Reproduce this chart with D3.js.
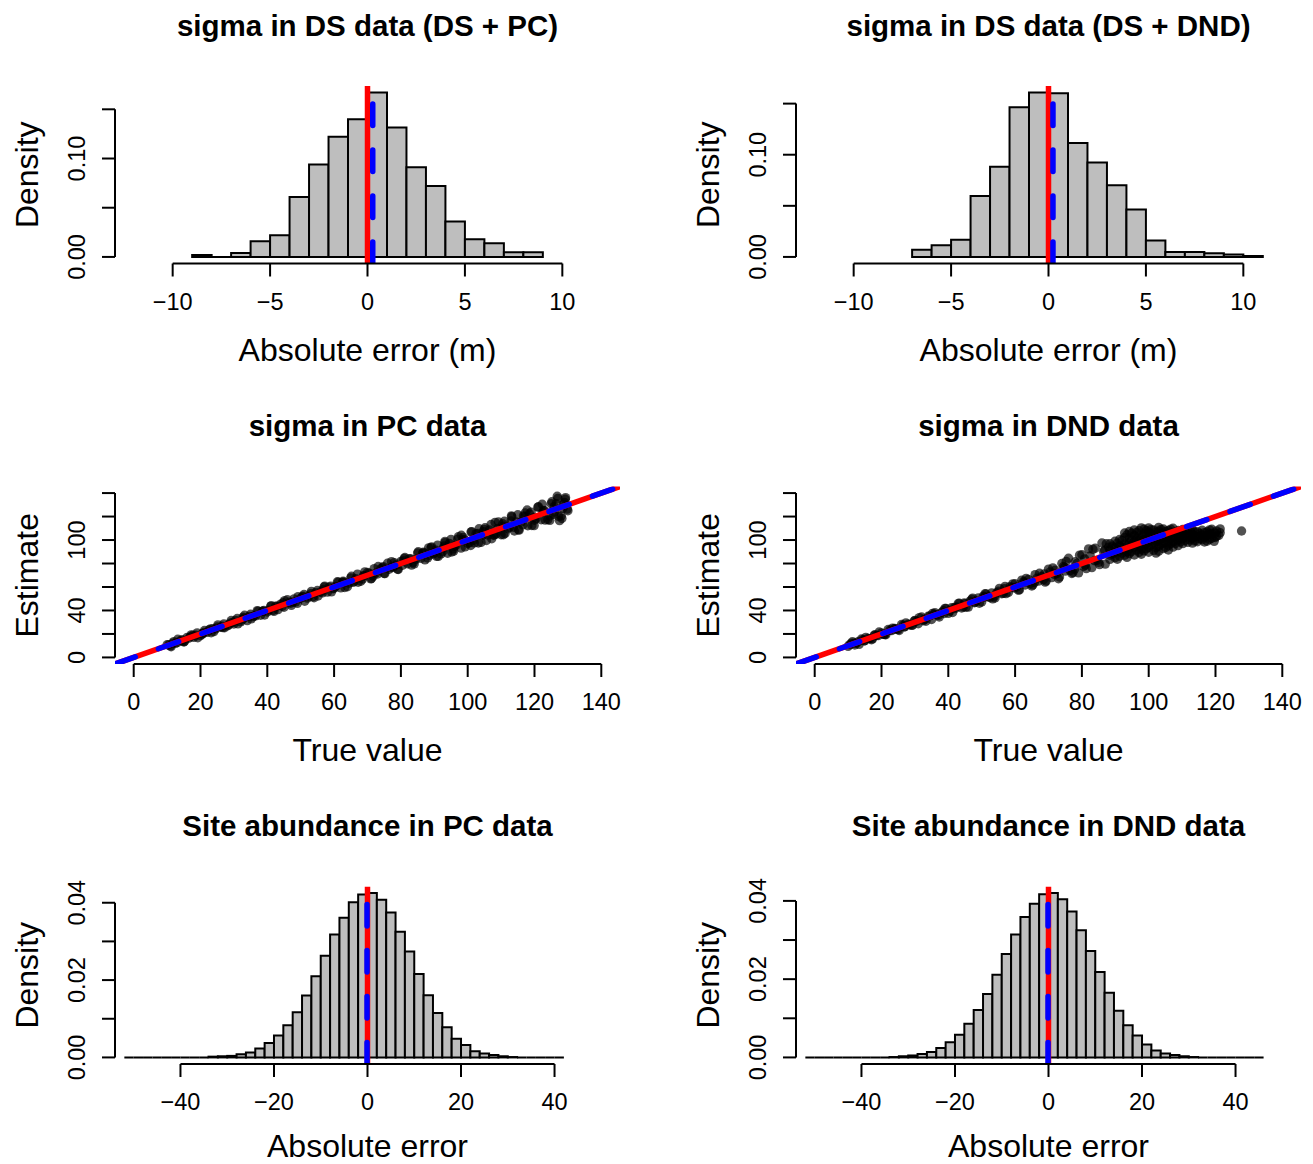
<!DOCTYPE html>
<html>
<head>
<meta charset="utf-8">
<script src="https://cdn.jsdelivr.net/npm/d3@7"></script>
<style>
  body { margin: 0; background: #fff; }
  svg { font-family: "Liberation Sans", Arial, Helvetica, sans-serif; }
</style>
</head>
<body>
<div id="chart"></div>
<script>
// ---------------- data ----------------
// histograms: first break, bin width, densities per bin
const dsPcStart = -9, dsPcWidth = 1;
const dsPcDensity = [0.002, 0, 0.004, 0.016, 0.022, 0.061, 0.094, 0.122, 0.140, 0.167,
  0.1315, 0.091, 0.072, 0.036, 0.018, 0.014, 0.0047, 0.0047];
const dsPcLines = [0, 0.27]; // truth (red), mean estimate (blue)

const dsDndStart = -7, dsDndWidth = 1;
const dsDndDensity = [0.0069, 0.0114, 0.0167, 0.0595, 0.0882, 0.1464, 0.1608, 0.1601, 0.1114,
  0.0925, 0.0702, 0.0464, 0.016, 0.0049, 0.0049, 0.0035, 0.0023, 0.001];
const dsDndLines = [0, 0.23];

const pcAbundStart = -52, pcAbundWidth = 2;
const pcAbundDensity = [0, 0, 0, 0, 0, 0, 0, 0, 0,
  0.0002, 0.0003, 0.0004, 0.0008, 0.0013, 0.0023, 0.0037, 0.0057, 0.0083, 0.0117, 0.016,
  0.021, 0.0263, 0.0318, 0.0361, 0.0401, 0.0421, 0.0425, 0.0408, 0.0375, 0.0325, 0.0274,
  0.0216, 0.0161, 0.0115, 0.0078, 0.0048, 0.0032, 0.0016, 0.001, 0.0006, 0.0003, 0.0001,
  0, 0, 0, 0, 0];
const pcAbundLines = [0, -0.1];

const dndAbundStart = -52, dndAbundWidth = 2;
const dndAbundDensity = [0, 0, 0, 0, 0, 0, 0, 0, 0,
  0.0001, 0.0003, 0.0005, 0.0009, 0.0014, 0.0024, 0.0039, 0.0058, 0.0086, 0.0121, 0.0162,
  0.0211, 0.0264, 0.0314, 0.0359, 0.0393, 0.0417, 0.042, 0.0404, 0.0373, 0.0325, 0.0272,
  0.0218, 0.0165, 0.0119, 0.0082, 0.0056, 0.0033, 0.0018, 0.001, 0.0006, 0.0003, 0.0001,
  0, 0, 0, 0, 0, 0, 0];
const dndAbundLines = [0, -0.1];

// scatter: [true value, estimate]
const pcSigma = [
  [10,10.8],[11,9.8],[12,13.5],[13,12.6],[14,14.3],[15,13.2],[16,17.1],[17,17.6],[18,17.1],[19,20.9],
  [20,18.6],[21,21.2],[22,21.3],[23,24.3],[24,22.0],[25,25.9],[26,25.7],[27,28.6],[28,26.9],[29,29.4],
  [30,28.5],[31,33.2],[32,30.3],[33,33.5],[34,31.4],[35,36.8],[36,35.4],[37,39.9],[38,35.9],[39,40.0],
  [40,38.7],[41,43.5],[42,39.2],[43,43.7],[44,45.4],[45,42.7],[46,49.1],[47,46.2],[48,49.9],[49,46.1],
  [50,50.4],[51,53.6],[52,50.5],[53,54.2],[54,50.8],[55,57.0],[56,55.8],[57,60.0],[58,55.6],[59,60.6],
  [60,59.0],[61,64.4],[62,59.3],[63,64.1],[64,60.2],[65,67.8],[66,64.8],[67,71.0],[68,64.9],[69,69.6],
  [70,72.3],[71,66.9],[72,75.6],[73,71.1],[74,75.5],[75,71.5],[76,80.2],[77,76.5],[78,80.7],[79,75.1],
  [80,81.8],[81,84.3],[82,79.8],[83,83.9],[84,79.7],[85,88.9],[86,84.4],[87,89.1],[88,84.7],[89,93.4],
  [90,89.1],[91,95.6],[92,88.2],[93,95.0],[94,88.8],[95,100.5],[96,94.6],[97,100.7],[98,93.1],[99,100.2],
  [100,97.1],[101,106.8],[102,97.6],[103,105.6],[104,98.0],[105,109.1],[106,104.2],[107,113.2],[108,104.4],[109,109.8],
  [110,104.5],[111,116.0],[112,109.6],[113,116.2],[114,107.7],[115,121.5],[116,115.3],[117,119.9],[118,112.2],[119,123.8],
  [120,116.9],[121,128.0],[122,117.3],[123,124.9],[124,117.4],[125,130.9],[126,123.8],[127,135.5],[128,120.5],[129,132.0],
  [130,125.0],
  [10.5,10.8],[12.5,12.0],[14.5,15.1],[16.5,16.3],[18.5,18.9],[20.5,19.8],[22.5,23.4],[24.5,24.2],[26.5,26.6],[28.5,27.7],
  [30.5,31.5],[32.5,31.9],[34.5,34.9],[36.5,35.4],[38.5,39.3],[40.5,40.3],[42.5,43.7],[44.5,43.6],[46.5,46.8],[48.5,47.2],
  [50.5,51.6],[52.5,52.1],[54.5,55.2],[56.5,55.0],[58.5,59.9],[60.5,60.4],[62.5,64.1],[64.5,63.3],[66.5,67.0],[68.5,66.7],
  [70.5,71.8],[72.5,71.9],[74.5,76.4],[76.5,75.1],[78.5,78.7],[80.5,78.5],[82.5,84.2],[84.5,83.6],[86.5,88.7],[88.5,86.9],
  [90.5,91.3],[92.5,90.1],[94.5,97.1],[96.5,95.5],[98.5,100.0],[100.5,97.7],[102.5,105.5],[104.5,104.0],[106.5,108.6],[108.5,105.3],
  [110.5,113.9],[112.5,110.8],[114.5,115.4],[116.5,112.9],[118.5,122.3],[120.5,118.4],[122.5,123.9],[124.5,120.5],[126.5,131.0],[128.5,127.0],
  [88.3,93.3],[90.7,86.1],[93.2,98.8],[95.8,90.6],[98.1,104.1],[100.9,95.3],[103.4,109.6],[105.6,99.6],[108.2,115.0],[110.7,104.5],
  [113.1,120.6],[115.4,108.4],[117.8,125.6],[119.9,112.3],[122.3,130.5],[124.6,116.8],[126.8,137.3],[128.2,118.4],[129.3,136.1],[127.5,116.5],
  [125.9,128.4],[129.8,126.3],
  [11.2,9.1],[13.2,15.5],[15.2,13.6],[17.2,19.2],[19.2,16.8],[21.2,22.9],[23.2,21.0],[25.2,27.7],[27.2,25.3],[29.2,31.4],
  [31.2,28.6],[33.2,35.9],[35.2,32.9],[37.2,39.3],[39.2,36.2],[41.2,44.1],[43.2,40.7],[45.2,48.4],[47.2,44.4],[49.2,51.8],
  [51.2,47.9],[53.2,56.3],[55.2,52.3],[57.2,60.7],[59.2,55.8],[61.2,64.0],[63.2,59.6],[65.2,69.1],[67.2,64.0],[69.2,72.9],
  [71.2,67.2],[73.2,77.4],[75.2,71.4],[77.2,81.6],[79.2,74.9],[81.2,85.1],[83.2,78.6],[85.2,90.0],[87.2,83.1],[89.2,94.2],
  [91.2,86.1],[93.2,97.8],[95.2,89.8],[97.2,102.8],[99.2,94.2],[101.2,107.1],[103.2,97.5],[105.2,110.4],[107.2,101.1],[109.2,115.5],
  [111.2,105.6],[113.2,119.8],[115.2,108.8],[117.2,123.0],[119.2,112.4],[121.2,128.3],[123.2,117.0],[125.2,132.6],[127.2,120.2],[129.2,134.7],
  [11.7,12.2],[14.7,13.8],[17.7,18.9],[20.7,20.3],[23.7,24.5],[26.7,25.4],[29.7,29.9],[32.7,34.2],[35.7,34.6],[38.7,39.3],
  [41.7,40.0],[44.7,46.6],[47.7,47.2],[50.7,52.1],[53.7,51.7],[56.7,57.6],[59.7,58.5],[62.7,64.9],[65.7,63.9],[68.7,69.4],
  [71.7,69.3],[74.7,77.3],[77.7,76.9],[80.7,82.3],[83.7,81.0],[86.7,89.6],[89.7,88.2],[92.7,93.1],[95.7,92.5],[98.7,102.1],
  [101.7,99.8],[104.7,107.2],[107.7,104.1],[110.7,111.8],[113.7,110.9],[116.7,120.6],[119.7,119.1],[122.7,125.1],[125.7,121.9],[128.7,130.5]
];
const pcSigmaLines = [[0, 1], [0, 1]]; // [intercept, slope]: 1:1 line (red), fit (blue)

const dndSigma = [
  [10,9.4],[11,12.2],[12,10.6],[13,13.5],[14,15.7],[15,14.2],[16,16.2],[17,15.1],[18,19.3],[19,18.6],
  [20,20.9],[21,19.4],[22,23.8],[23,22.8],[24,24.7],[25,23.7],[26,28.0],[27,26.1],[28,28.4],[29,27.3],
  [30,31.5],[31,28.7],[32,34.4],[33,32.3],[34,35.1],[35,32.3],[36,38.2],[37,35.8],[38,38.3],[39,41.8],
  [40,37.5],[41,42.3],[42,41.6],[43,46.0],[44,42.1],[45,45.8],[46,42.9],[47,49.5],[48,47.0],[49,50.7],
  [50,47.2],[51,54.2],[52,51.5],[53,55.0],[54,50.7],[55,56.4],[56,54.2],[57,60.5],[58,55.4],[59,59.6],
  [60,62.9],[61,57.3],[62,65.8],[63,61.7],[64,66.4],[65,60.8],[66,70.5],[67,65.0],[68,69.0],[69,64.2],
  [70,75.2],[71,68.0],[72,74.2],[73,67.0],[74,80.0],[75,73.5],[76,84.5],[77,71.5],[78,81.5],[79,72.0],
  [80,87.5],[81,78.5],[82,92.5],[83,76.5],[84,93.0],[85,81.0],[86,97.5],[87,79.5],[88,94.0],
  [10.5,10.9],[12.5,12.2],[14.5,15.2],[16.5,15.9],[18.5,18.7],[20.5,19.6],[22.5,23.1],[24.5,24.1],[26.5,27.5],[28.5,27.8],
  [30.5,30.8],[32.5,31.3],[34.5,35.4],[36.5,36.3],[38.5,39.8],[40.5,39.5],[42.5,43.0],[44.5,43.0],[46.5,47.9],[48.5,48.2],
  [50.5,52.2],[52.5,51.1],[54.5,55.1],[56.5,54.6],[58.5,60.3],[60.5,60.0],[62.5,64.5],[64.5,62.8],[66.5,67.4],[68.5,66.2],
  [70.5,72.9],[72.5,71.4],[74.5,77.5],[76.5,73.9],[78.5,80.0],[80.5,77.5],[82.5,86.5],[84.5,82.7],[86.5,90.0],
  [11.3,13.3],[13.3,11.1],[15.3,17.1],[17.3,15.8],[19.3,21.6],[21.3,19.3],[23.3,24.9],[25.3,22.9],[27.3,29.4],[29.3,27.5],
  [31.3,33.9],[33.3,30.8],[35.3,37.5],[37.3,34.4],[39.3,41.7],[41.3,38.3],[43.3,46.1],[45.3,42.7],[47.3,50.5],[49.3,46.2],
  [51.3,54.0],[53.3,49.9],[55.3,58.8],[57.3,54.4],[59.3,62.6],[61.3,57.5],[63.3,67.3],[65.3,61.8],[67.3,71.7],[69.3,65.1],
  [71.3,76.3],[73.3,68.5],[75.3,81.8],[77.3,72.3],[79.3,87.1],[81.3,75.7],[83.3,92.1],[85.3,79.1],[87.3,96.8],
  [11.8,12.1],[14.8,14.1],[17.8,18.7],[20.8,19.8],[23.8,24.2],[26.8,26.0],[29.8,31.0],[32.8,32.5],[35.8,36.8],[38.8,37.4],
  [41.8,42.5],[44.8,46.3],[47.8,46.6],[50.8,51.3],[53.8,52.2],[56.8,58.6],[59.8,59.2],[62.8,64.1],[65.8,63.8],[68.8,71.2],
  [71.8,70.8],[74.8,76.7],[77.8,75.2],[80.8,83.9],[83.8,82.4],[86.8,91.3],
  [88.4,83.5],[88.4,87.0],[88.4,91.5],[88.4,96.8],
  [89.9,85.0],[89.9,89.4],[89.9,93.6],[89.9,99.0],
  [91.3,86.2],[91.3,90.5],[91.3,95.2],[91.3,100.4],
  [92.8,87.0],[92.8,91.8],[92.8,96.6],[92.8,102.3],[92.8,106.0],
  [94.2,88.4],[94.2,92.6],[94.2,97.5],[94.2,101.8],[94.2,107.3],
  [95.7,87.3],[95.7,93.9],[95.7,98.8],[95.7,104.0],[95.7,108.6],
  [97.1,89.5],[97.1,94.0],[97.1,99.6],[97.1,103.2],[97.1,107.9],
  [98.6,90.8],[98.6,95.4],[98.6,100.5],[98.6,105.4],[98.6,109.2],
  [100.0,89.6],[100.0,93.7],[100.0,98.1],[100.0,102.6],[100.0,106.8],[100.0,110.3],
  [101.5,91.2],[101.5,96.0],[101.5,100.9],[101.5,104.5],[101.5,108.5],
  [103.0,90.4],[103.0,94.6],[103.0,99.2],[103.0,103.4],[103.0,107.6],[103.0,110.8],
  [104.4,92.7],[104.4,97.3],[104.4,101.6],[104.4,105.9],[104.4,109.4],
  [105.9,91.5],[105.9,95.1],[105.9,99.7],[105.9,104.0],[105.9,108.2],
  [107.3,94.0],[107.3,98.4],[107.3,102.9],[107.3,106.6],[107.3,110.0],
  [108.8,95.2],[108.8,99.8],[108.8,104.3],[108.8,108.1],
  [110.2,96.9],[110.2,101.2],[110.2,105.4],[110.2,109.0],
  [111.7,98.0],[111.7,102.7],[111.7,106.5],
  [113.1,97.4],[113.1,101.5],[113.1,105.1],[113.1,108.7],
  [114.6,98.6],[114.6,103.0],[114.6,107.2],
  [116.0,100.2],[116.0,104.4],[116.0,108.3],
  [117.5,99.1],[117.5,103.8],[117.5,107.0],
  [118.9,101.5],[118.9,105.6],[118.9,109.2],
  [119.6,98.9],[120.3,103.0],[120.3,107.8],[121.4,106.2],[121.4,109.5],
  [89.1,88.2],[89.1,94.8],[90.6,83.6],[90.6,91.9],[90.6,97.4],[92.0,88.9],[92.0,93.8],[92.0,99.6],
  [93.5,85.2],[93.5,90.0],[93.5,94.9],[93.5,104.5],[94.9,90.2],[94.9,95.6],[94.9,100.1],[94.9,105.8],
  [96.4,91.4],[96.4,96.8],[96.4,101.3],[96.4,106.5],[97.8,87.9],[97.8,92.2],[97.8,97.6],[97.8,101.9],[97.8,110.3],
  [99.3,92.6],[99.3,97.1],[99.3,103.8],[99.3,107.9],[100.7,95.6],[100.7,100.4],[100.7,104.8],[100.7,108.9],
  [102.2,88.9],[102.2,93.5],[102.2,98.5],[102.2,102.4],[102.2,106.7],[103.7,96.2],[103.7,101.0],[103.7,105.2],[103.7,109.0],
  [105.1,93.7],[105.1,98.2],[105.1,102.5],[105.1,107.3],[106.6,96.8],[106.6,101.3],[106.6,105.6],[106.6,109.3],
  [108.0,97.1],[108.0,101.6],[108.0,106.2],[109.5,98.3],[109.5,103.4],[109.5,107.4],[110.9,99.6],[110.9,104.0],[110.9,108.2],
  [112.4,100.1],[112.4,104.6],[112.4,108.0],[113.8,99.3],[113.8,103.4],[113.8,106.9],[115.3,101.0],[115.3,105.5],
  [116.7,98.3],[116.7,102.3],[116.7,106.3],[118.2,100.6],[118.2,104.8],[118.2,108.6],[119.9,102.2],[119.9,106.0],[121.0,104.0],
  [127.8,107.7]
];
const dndSigmaLines = [[0, 1], [0, 1]];

// axis ticks and the labels R kept
const sigmaErrTicks = [-10, -5, 0, 5, 10];
const sigmaDensTicks = [0, 0.05, 0.10, 0.15];
const sigmaDensLabels = [0, 0.10];
const trueTicks = [0, 20, 40, 60, 80, 100, 120, 140];
const estTicks = [0, 20, 40, 60, 80, 100, 120, 140];
const estLabels = [0, 40, 100];
const abundErrTicks = [-40, -20, 0, 20, 40];
const abundDensTicks = [0, 0.01, 0.02, 0.03, 0.04];
const abundDensLabels = [0, 0.02, 0.04];

// ---------------- layout ----------------
const width = 1313, height = 1164;
const colLeft = [115, 796];
const rowTop = [86, 486.5, 886.5];
const plotW = 505, plotH = 177.5;
const tickLen = 13;
const tickFont = 23.5, labFont = 32, mainFont = 29.5;

const svg = d3.select("#chart").append("svg")
  .attr("width", width)
  .attr("height", height);

const minus = (v) => String(v).replace("-", "\u2212");

// R pads the axis limits by 4% on each side
function usr(lim) {
  const r = lim[1] - lim[0];
  return [lim[0] - 0.04 * r, lim[1] + 0.04 * r];
}

function panel(col, row, title, xlab, ylab) {
  const id = "clip-" + col + "-" + row;
  const g = svg.append("g")
    .attr("transform", "translate(" + colLeft[col] + "," + rowTop[row] + ")");
  g.append("clipPath").attr("id", id)
    .append("rect").attr("width", plotW).attr("height", plotH);

  g.append("text")
    .attr("x", plotW / 2).attr("y", -50.5)
    .attr("text-anchor", "middle")
    .style("font-size", mainFont + "px")
    .style("font-weight", "bold")
    .text(title);
  // last row sits a little higher so the label stays inside the page
  g.append("text")
    .attr("x", plotW / 2).attr("y", plotH + (row < 2 ? 97 : 93))
    .attr("text-anchor", "middle")
    .style("font-size", labFont + "px")
    .text(xlab);
  g.append("text")
    .attr("transform", "translate(-77," + plotH / 2 + ") rotate(-90)")
    .attr("text-anchor", "middle")
    .style("font-size", labFont + "px")
    .text(ylab);

  const plot = g.append("g").attr("clip-path", "url(#" + id + ")");
  return { g, plot };
}

function drawAxes(g, x, y, xTicks, yTicks, yLabels, yFmt) {
  // x axis, line spans first to last tick like R
  const xa = g.append("g").attr("transform", "translate(0," + plotH + ")");
  xa.append("line")
    .attr("x1", x(xTicks[0])).attr("x2", x(xTicks[xTicks.length - 1]))
    .attr("stroke", "black").attr("stroke-width", 2);
  xa.selectAll("line.tick").data(xTicks).enter().append("line")
    .attr("class", "tick")
    .attr("x1", (d) => x(d)).attr("x2", (d) => x(d))
    .attr("y1", 0).attr("y2", tickLen)
    .attr("stroke", "black").attr("stroke-width", 2);
  xa.selectAll("text").data(xTicks).enter().append("text")
    .attr("x", (d) => x(d)).attr("y", 46)
    .attr("text-anchor", "middle")
    .style("font-size", tickFont + "px")
    .text((d) => minus(d));

  // y axis
  const ya = g.append("g");
  ya.append("line")
    .attr("y1", y(yTicks[0])).attr("y2", y(yTicks[yTicks.length - 1]))
    .attr("stroke", "black").attr("stroke-width", 2);
  ya.selectAll("line.tick").data(yTicks).enter().append("line")
    .attr("class", "tick")
    .attr("y1", (d) => y(d)).attr("y2", (d) => y(d))
    .attr("x1", 0).attr("x2", -tickLen)
    .attr("stroke", "black").attr("stroke-width", 2);
  ya.selectAll("text").data(yLabels).enter().append("text")
    .attr("transform", (d) => "translate(-29.6," + y(d) + ") rotate(-90)")
    .attr("text-anchor", "middle")
    .style("font-size", tickFont + "px")
    .text((d) => yFmt(d));
}

function dashedBlue(sel) {
  return sel.attr("stroke", "blue")
    .attr("stroke-width", 5.5)
    .attr("stroke-linecap", "round")
    .attr("stroke-dasharray", "21.5,24.5");
}

function histPanel(col, row, cfg) {
  const { g, plot } = panel(col, row, cfg.title, cfg.xlab, "Density");
  const x = d3.scaleLinear().domain(usr(cfg.xlim)).range([0, plotW]);
  const ymax = d3.max(cfg.density);
  const y = d3.scaleLinear().domain(usr([0, ymax])).range([plotH, 0]);

  const bins = cfg.density.map((d, i) => ({
    x0: cfg.start + i * cfg.width,
    x1: cfg.start + (i + 1) * cfg.width,
    d: d,
  }));

  // paths so that empty bins still show as a line on zero
  plot.selectAll("path.bar").data(bins).enter().append("path")
    .attr("class", "bar")
    .attr("d", (b) => "M" + x(b.x0) + "," + y(0) + "V" + y(b.d) + "H" + x(b.x1) + "V" + y(0) + "Z")
    .attr("fill", "#bebebe")
    .attr("stroke", "black")
    .attr("stroke-width", 2);

  plot.append("line")
    .attr("x1", x(cfg.lines[0])).attr("x2", x(cfg.lines[0]))
    .attr("y1", plotH).attr("y2", 0)
    .attr("stroke", "red").attr("stroke-width", 5.5);
  plot.append("line")
    .attr("x1", x(cfg.lines[1])).attr("x2", x(cfg.lines[1]))
    .attr("y1", plotH).attr("y2", 0)
    .call(dashedBlue);

  drawAxes(g, x, y, cfg.xTicks, cfg.yTicks, cfg.yLabels, d3.format(".2f"));
}

function scatterPanel(col, row, cfg) {
  const { g, plot } = panel(col, row, cfg.title, "True value", "Estimate");
  const x = d3.scaleLinear().domain(usr([0, 140])).range([0, plotW]);
  const y = d3.scaleLinear().domain(usr([0, 140])).range([plotH, 0]);

  plot.selectAll("circle").data(cfg.points).enter().append("circle")
    .attr("cx", (d) => x(d[0]))
    .attr("cy", (d) => y(d[1]))
    .attr("r", 4.7)
    .attr("fill", "rgba(0,0,0,0.68)");

  const [x0, x1] = x.domain();
  const ab = (l, v) => l[0] + l[1] * v;
  plot.append("line")
    .attr("x1", x(x0)).attr("y1", y(ab(cfg.lines[0], x0)))
    .attr("x2", x(x1)).attr("y2", y(ab(cfg.lines[0], x1)))
    .attr("stroke", "red").attr("stroke-width", 5.5);
  plot.append("line")
    .attr("x1", x(x0)).attr("y1", y(ab(cfg.lines[1], x0)))
    .attr("x2", x(x1)).attr("y2", y(ab(cfg.lines[1], x1)))
    .call(dashedBlue);

  drawAxes(g, x, y, trueTicks, estTicks, estLabels, d3.format("d"));
}

histPanel(0, 0, {
  title: "sigma in DS data (DS + PC)", xlab: "Absolute error (m)",
  xlim: [-12, 12], start: dsPcStart, width: dsPcWidth, density: dsPcDensity,
  lines: dsPcLines, xTicks: sigmaErrTicks, yTicks: sigmaDensTicks, yLabels: sigmaDensLabels,
});
histPanel(1, 0, {
  title: "sigma in DS data (DS + DND)", xlab: "Absolute error (m)",
  xlim: [-12, 12], start: dsDndStart, width: dsDndWidth, density: dsDndDensity,
  lines: dsDndLines, xTicks: sigmaErrTicks, yTicks: sigmaDensTicks, yLabels: sigmaDensLabels,
});
scatterPanel(0, 1, { title: "sigma in PC data", points: pcSigma, lines: pcSigmaLines });
scatterPanel(1, 1, { title: "sigma in DND data", points: dndSigma, lines: dndSigmaLines });
histPanel(0, 2, {
  title: "Site abundance in PC data", xlab: "Absolute error",
  xlim: [-50, 50], start: pcAbundStart, width: pcAbundWidth, density: pcAbundDensity,
  lines: pcAbundLines, xTicks: abundErrTicks, yTicks: abundDensTicks, yLabels: abundDensLabels,
});
histPanel(1, 2, {
  title: "Site abundance in DND data", xlab: "Absolute error",
  xlim: [-50, 50], start: dndAbundStart, width: dndAbundWidth, density: dndAbundDensity,
  lines: dndAbundLines, xTicks: abundErrTicks, yTicks: abundDensTicks, yLabels: abundDensLabels,
});
</script>
</body>
</html>
